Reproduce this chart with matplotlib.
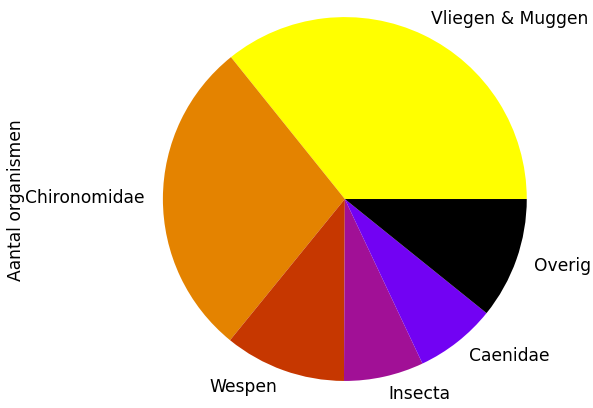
import pandas as pd
import matplotlib
matplotlib.use("Agg")
import matplotlib.pyplot as plt

groepen = ["Vliegen & Muggen", "Chironomidae", "Wespen", "Insecta", "Caenidae", "Overig"]
aantallen = [358, 284, 108, 71, 72, 108]

data = pd.Series(aantallen, index=groepen, name="Aantal organismen")

fig, ax = plt.subplots(figsize=(5.93, 4.08), dpi=100)
data.plot.pie(ax=ax, colormap="gnuplot_r", fontsize=12.3)
ax.set_ylabel("Aantal organismen", fontsize=12.3)
# taart groot in beeld, zoals bij bbox_inches='tight'
ax.set_position([0.198, -0.0453, 0.767, 1.115])
ax.yaxis.set_label_coords(-0.204, 0.497)

fig.savefig("out.png", dpi=100)
